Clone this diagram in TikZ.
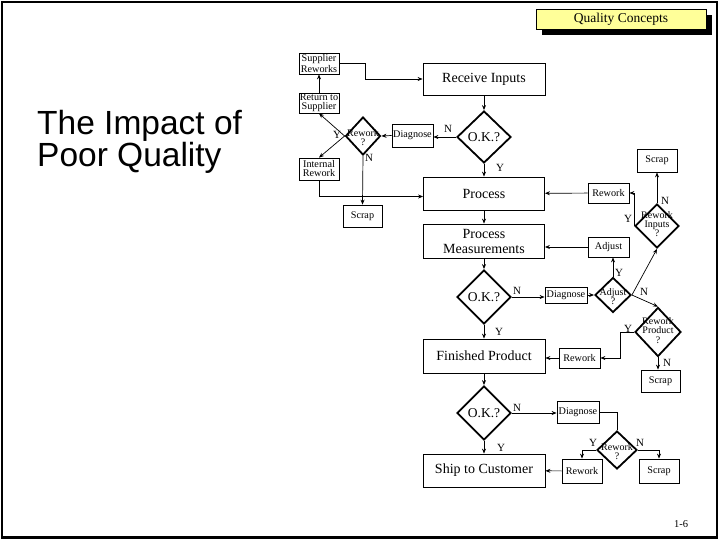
\documentclass[tikz,border=0pt]{standalone}
\usepackage{fontspec}
\setmainfont{Liberation Serif}
\newfontfamily\headfont{Liberation Sans}
\usetikzlibrary{arrows.meta,shapes.geometric,shadows,calc}
\definecolor{notepad}{RGB}{255,255,153}

\newcommand{\dtxt}[2][-2pt]{\smash{\makebox[0pt]{\raisebox{#1}{\begin{tabular}{@{}c@{}}#2\end{tabular}}}}}

\tikzset{
  bigbox/.style={draw, line width=0.8pt, inner sep=0pt, align=center, font=\fontsize{14}{15}\selectfont},
  smallbox/.style={draw, line width=0.8pt, inner sep=0pt, align=center, font=\fontsize{10.2}{9}\selectfont},
  dia/.style={draw, diamond, line width=1.8pt, inner sep=0pt, font=\fontsize{10}{8.8}\selectfont},
  okdia/.style={dia, font=\fontsize{13.5}{14}\selectfont},
  line/.style={line width=0.7pt},
  arr/.style={line, -{Stealth[length=5pt,width=4pt]}},
  yn/.style={font=\fontsize{11}{11}\selectfont, inner sep=0pt},
}

\begin{document}
\begin{tikzpicture}[x=1pt,y=-1pt]
\useasboundingbox (0,0) rectangle (721,541);
\draw[line width=2.5pt] (2,2) rectangle (717,537.5);

% slide heading
\node[draw, fill=notepad, line width=0.8pt, minimum width=170, minimum height=20, inner sep=0pt,
  font=\fontsize{13.5}{14}\selectfont,
  drop shadow={shadow xshift=6pt, shadow yshift=-6pt, opacity=1, fill=black}] (topic) at (621,19) {Quality Concepts};
\node[anchor=north west, inner sep=0pt, align=left, font=\headfont\fontsize{33.5}{30}\selectfont] (headline) at (37,110) {The Impact of\\Poor Quality};
\node[font=\fontsize{10.5}{10}\selectfont, inner sep=0pt] (pagenum) at (681,524) {1-6};

% incoming material
\node[smallbox, minimum width=40, minimum height=21] (supRew) at (319,63.5) {Supplier\\Reworks};
\node[smallbox, minimum width=40, minimum height=20] (retSup) at (319,103) {Return to\\Supplier};
\node[smallbox, minimum width=40, minimum height=22] (intRew) at (319,169) {Internal\\Rework};
\node[dia, minimum width=35, minimum height=38] (rwq1) at (363,136) {\dtxt[-5.5pt]{Rework\\?}};
\node[smallbox, minimum width=41, minimum height=23] (diag1) at (412.5,135.5) {Diagnose};
\node[okdia, minimum width=54, minimum height=52] (ok1) at (484,137) {O.K.?};
\node[bigbox, minimum width=122, minimum height=32] (recv) at (484,79) {Receive Inputs};
\node[smallbox, minimum width=39, minimum height=22] (scrap1) at (362.5,216) {Scrap};

% process
\node[bigbox, minimum width=121, minimum height=33] (proc) at (484,193.5) {Process};
\node[bigbox, minimum width=121, minimum height=34] (meas) at (484,241) {Process\\Measurements};
\node[smallbox, minimum width=41, minimum height=20] (rew2) at (608.5,193) {Rework};
\node[smallbox, minimum width=40, minimum height=23] (scrap2) at (657,160.5) {Scrap};
\node[dia, minimum width=44, minimum height=44] (rwin) at (657,226) {\dtxt{Rework\\Inputs\\?}};
\node[smallbox, minimum width=41, minimum height=20] (adjust) at (608.5,247) {Adjust};
\node[okdia, minimum width=54, minimum height=54] (ok2) at (484,297) {O.K.?};
\node[smallbox, minimum width=42, minimum height=16] (diag2) at (566,295) {Diagnose};
\node[dia, minimum width=36, minimum height=35] (adjq) at (613,295) {\dtxt[-5.5pt]{Adjust\\?}};
\node[dia, minimum width=46, minimum height=49] (rwprod) at (658,332) {\dtxt{Rework\\Product\\?}};

% finished goods
\node[bigbox, minimum width=122, minimum height=34] (fin) at (484,356) {Finished Product};
\node[smallbox, minimum width=41, minimum height=20] (rew3) at (579.5,358) {Rework};
\node[smallbox, minimum width=39, minimum height=22] (scrap3) at (660.5,381) {Scrap};
\node[okdia, minimum width=54, minimum height=54] (ok3) at (484,413) {O.K.?};
\node[smallbox, minimum width=42, minimum height=22] (diag3) at (578,412) {Diagnose};
\node[dia, minimum width=40, minimum height=38] (rwq3) at (617,450) {\dtxt[-5.5pt]{Rework\\?}};
\node[smallbox, minimum width=40, minimum height=24] (rew4) at (582,471) {Rework};
\node[smallbox, minimum width=40, minimum height=24] (scrap4) at (659,471) {Scrap};
\node[bigbox, minimum width=122, minimum height=33] (ship) at (484,470.5) {Ship to Customer};

% connectors
\draw[arr] (recv) -- (ok1);
\draw[arr] (ok1.west) -- (ok1.west -| diag1.east);
\draw[arr] (diag1.west) -- (rwq1.east);
\draw[arr] (rwq1.west) -- (retSup.south);
\draw[arr] (rwq1.west) -- (intRew.north);
\draw[arr] (retSup) -- (supRew);
\draw[arr] (supRew.east) -| ($(recv.west)+(-57,0)$) -- (recv.west);
\draw[arr] (rwq1.south) -- (scrap1.north);
\draw[arr] (intRew.south) |- ([yshift=-3pt]proc.west);
\draw[arr] (ok1) -- (proc);
\draw[arr] (proc) -- (meas);
\draw[arr] (rew2) -- (proc);
\draw[arr] (rwin.west) |- (rew2.east);
\draw[arr] (rwin) -- (scrap2);
\draw[arr] (adjust.west) -- (adjust.west -| meas.east);
\draw[arr] (adjq.north) -- (adjq.north |- adjust.south);
\draw[arr] (meas) -- (ok2);
\draw[arr] (ok2.east) -- (ok2.east -| diag2.west);
\draw[arr] (diag2) -- (adjq);
\draw[arr] (adjq.east) -- (rwin.south);
\draw[arr] (adjq.east) -- (rwprod.north);
\draw[arr] (ok2) -- (fin);
\draw[arr] (rwprod.west) -- ++(-14,0) |- (rew3.east);
\draw[arr] (rwprod.south) -- (rwprod.south |- scrap3.north);
\draw[arr] (rew3.west) -- (rew3.west -| fin.east);
\draw[arr] (fin) -- (ok3);
\draw[arr] (ok3.east) -- (ok3.east -| diag3.west);
\draw[line] (diag3.east) -| (rwq3.north);
\draw[arr] (rwq3.west) -| (rew4.north);
\draw[arr] (rwq3.east) -| (scrap4.north);
\draw[arr] (rew4) -- (ship);
\draw[arr] (ok3) -- (ship);

% Y / N marks
\node[yn] (n1) at (448,129) {N};
\node[yn] (y1) at (337,135) {Y};
\node[yn] (n2) at (369,158) {N};
\node[yn] (y2) at (500,168) {Y};
\node[yn] (y3) at (628,219) {Y};
\node[yn] (n3) at (665,201) {N};
\node[yn] (y4) at (619,273) {Y};
\node[yn] (n4) at (517,291) {N};
\node[yn] (n5) at (644,292) {N};
\node[yn] (y5) at (499,332) {Y};
\node[yn] (y6) at (628,329) {Y};
\node[yn] (n6) at (667,363) {N};
\node[yn] (n7) at (517,408) {N};
\node[yn] (y7) at (501,448) {Y};
\node[yn] (y8) at (593,443) {Y};
\node[yn] (n8) at (640,443) {N};
\end{tikzpicture}
\end{document}
